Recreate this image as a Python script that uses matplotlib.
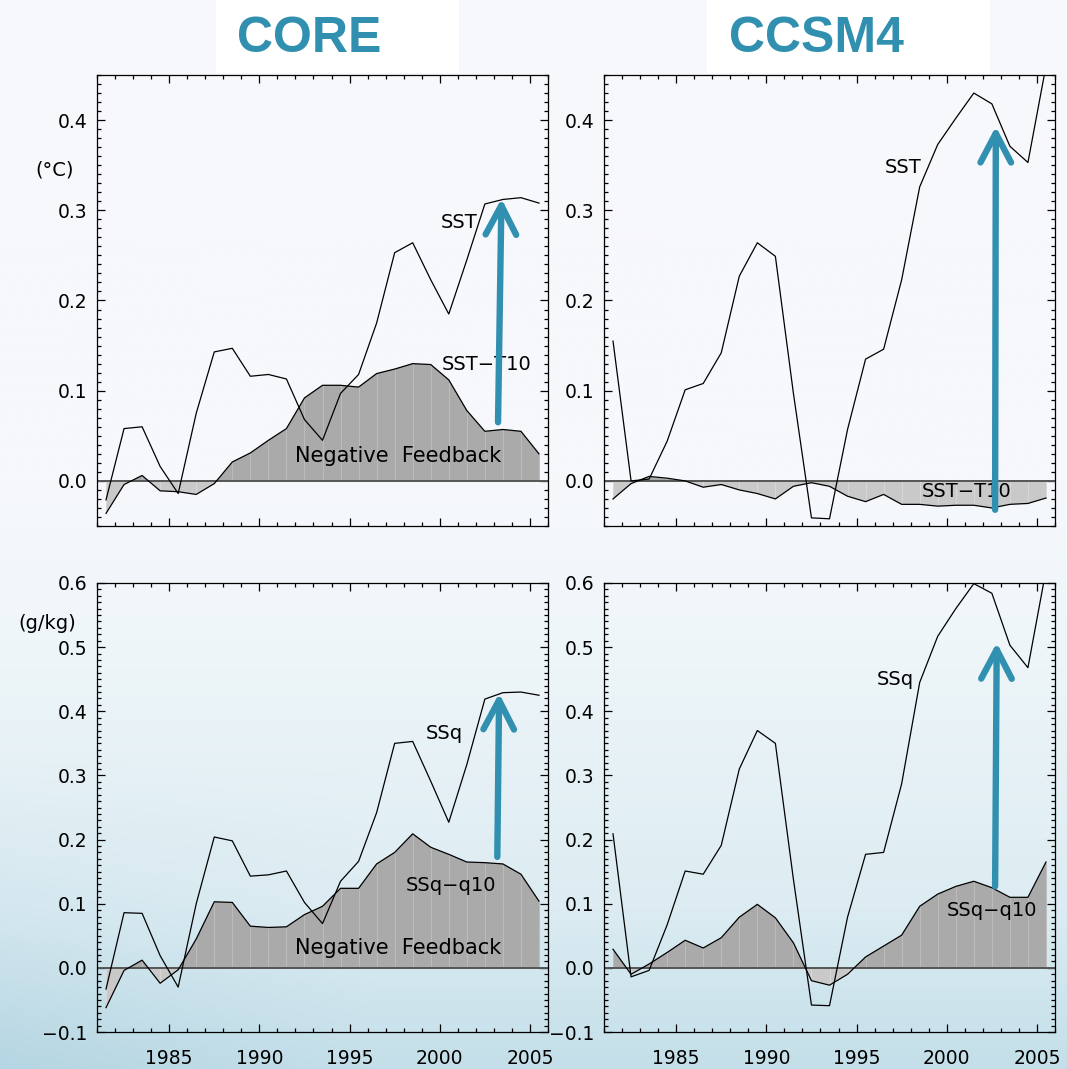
import numpy as np
import matplotlib.pyplot as plt
from matplotlib import font_manager
from matplotlib.patches import FancyArrowPatch, Rectangle
from matplotlib.ticker import MultipleLocator, FuncFormatter

plt.rcParams['font.family'] = ['DejaVu Sans']

# annual means, plotted at mid-year
years = np.arange(1981, 2006) + 0.5

core_sst = [-0.021, 0.058, 0.060, 0.016, -0.014, 0.075, 0.143, 0.147, 0.116, 0.118,
            0.113, 0.068, 0.045, 0.097, 0.118, 0.175, 0.253, 0.264, 0.223, 0.185,
            0.245, 0.307, 0.312, 0.314, 0.308]
core_sst_t10 = [-0.036, -0.004, 0.006, -0.011, -0.012, -0.015, -0.003, 0.021, 0.031, 0.045,
                0.058, 0.092, 0.106, 0.106, 0.104, 0.119, 0.124, 0.130, 0.129, 0.112,
                0.078, 0.055, 0.057, 0.055, 0.030]

ccsm_sst = [0.155, 0.000, 0.002, 0.044, 0.101, 0.108, 0.142, 0.227, 0.264, 0.249,
            0.097, -0.041, -0.042, 0.057, 0.135, 0.146, 0.223, 0.326, 0.373, 0.402,
            0.430, 0.418, 0.371, 0.353, 0.460]
ccsm_sst_t10 = [-0.020, -0.003, 0.005, 0.003, 0.000, -0.007, -0.004, -0.010, -0.014, -0.020,
                -0.006, -0.002, -0.006, -0.017, -0.023, -0.015, -0.026, -0.026, -0.028, -0.027,
                -0.027, -0.030, -0.026, -0.025, -0.019]

core_ssq = [-0.033, 0.086, 0.085, 0.019, -0.030, 0.100, 0.204, 0.198, 0.143, 0.145,
            0.151, 0.102, 0.069, 0.135, 0.166, 0.242, 0.350, 0.353, 0.291, 0.227,
            0.317, 0.419, 0.429, 0.430, 0.425]
core_ssq_q10 = [-0.062, -0.004, 0.012, -0.024, -0.003, 0.045, 0.103, 0.102, 0.065, 0.063,
                0.064, 0.083, 0.096, 0.124, 0.124, 0.162, 0.180, 0.209, 0.188, 0.177,
                0.165, 0.164, 0.162, 0.146, 0.104]

ccsm_ssq = [0.209, -0.014, -0.004, 0.067, 0.151, 0.146, 0.191, 0.310, 0.370, 0.350,
            0.138, -0.058, -0.059, 0.079, 0.177, 0.180, 0.287, 0.445, 0.517, 0.560,
            0.599, 0.584, 0.503, 0.468, 0.620]
ccsm_ssq_q10 = [0.029, -0.010, 0.006, 0.024, 0.043, 0.031, 0.047, 0.079, 0.099, 0.078,
                0.039, -0.020, -0.027, -0.010, 0.017, 0.034, 0.051, 0.096, 0.115, 0.127,
                0.135, 0.125, 0.110, 0.110, 0.165]

titles = ['CORE', 'CCSM4']
teal = '#3190b0'

# condensed bold face for the headings if the narrow variant is installed
installed = {f.name for f in font_manager.fontManager.ttflist}
if 'Liberation Sans Narrow' in installed:
    title_font, title_size = 'Liberation Sans Narrow', 42
else:
    title_font, title_size = 'Liberation Sans', 36


def fmt_tick(v, pos):
    s = f'{v:.1f}'
    if s == '-0.0':
        s = '0.0'
    return s.replace('-', '\u2212')


def draw_panel(ax, total, diff, ylim, show_xlabels):
    total = np.asarray(total)
    diff = np.asarray(diff)
    ax.set_facecolor('none')
    ax.fill_between(years, 0, diff, where=diff >= 0, interpolate=True,
                    color='#aaaaaa', lw=0, zorder=1)
    ax.fill_between(years, 0, diff, where=diff <= 0, interpolate=True,
                    color='#c9c9c9', lw=0, zorder=1)
    # seams between the yearly fill polygons
    pos = diff > 0
    ax.vlines(years[pos], 0, diff[pos], colors='#bdbdbd', lw=0.7, zorder=1.5)
    ax.vlines(years[~pos], diff[~pos], 0, colors='#d8d8d8', lw=0.7, zorder=1.5)
    ax.axhline(0, color='#555555', lw=1.4, zorder=2)
    ax.plot(years, diff, color='black', lw=0.9, zorder=3)
    ax.plot(years, total, color='black', lw=0.9, zorder=3)

    ax.set_xlim(1981, 2006)
    ax.set_ylim(*ylim)
    ax.xaxis.set_major_locator(MultipleLocator(5))
    ax.xaxis.set_minor_locator(MultipleLocator(1))
    ax.yaxis.set_major_locator(MultipleLocator(0.1))
    ax.yaxis.set_minor_locator(MultipleLocator(0.01))
    ax.yaxis.set_major_formatter(FuncFormatter(fmt_tick))
    ax.tick_params(which='both', direction='in', top=True, right=True,
                   width=0.9, colors='black', labelsize=13.5)
    ax.tick_params(which='major', length=6)
    ax.tick_params(which='minor', length=3)
    ax.tick_params(axis='y', pad=7)
    ax.tick_params(axis='x', pad=12, labelbottom=show_xlabels)
    for sp in ax.spines.values():
        sp.set_linewidth(0.9)


def add_arrow(ax, start, end):
    arr = FancyArrowPatch(start, end, arrowstyle='->,head_length=2.1,head_width=1.1',
                          mutation_scale=10, lw=4.6, color=teal,
                          capstyle='round', joinstyle='round',
                          shrinkA=0, shrinkB=0, zorder=5)
    ax.add_patch(arr)


fig = plt.figure(figsize=(10.67, 10.69), dpi=100)

# background wash
bg = fig.add_axes([0, 0, 1, 1], zorder=-10)
ny, nx = 400, 200
t = np.linspace(0, 1, ny)[:, None]
u = np.linspace(0, 1, nx)[None, :]
stops = np.array([0.0, 0.45, 0.6, 0.85, 1.0])
cols = np.array([[248, 248, 253], [246, 248, 252], [239, 246, 249],
                 [220, 236, 242], [196, 223, 233]]) / 255.0
img = np.zeros((ny, nx, 3))
for c in range(3):
    img[:, :, c] = np.interp(t[:, 0], stops, cols[:, c])[:, None]
shade = np.clip((t - 0.7) / 0.3, 0, 1) * np.clip(1 - u / 0.35, 0, 1) * 0.06
img = np.clip(img - shade[:, :, None] * np.array([1.0, 0.6, 0.4]), 0, 1)
bg.imshow(img, aspect='auto', extent=[0, 1, 0, 1], interpolation='bilinear')
bg.set_axis_off()

# heading boxes
for x0, w in [(216, 243), (707, 283)]:
    fig.add_artist(Rectangle((x0 / 1067, 1 - 73 / 1069), w / 1067, 73 / 1069,
                             transform=fig.transFigure, facecolor='white',
                             edgecolor='none', zorder=-5))

for name, x0 in zip(titles, [237, 729]):
    fig.text(x0 / 1067, 1 - 52 / 1069, name, color=teal, fontsize=title_size,
             fontweight='bold', family=[title_font, 'DejaVu Sans'],
             ha='left', va='baseline')

W = 451 / 1067
ax_tl = fig.add_axes([97 / 1067, 1 - 526 / 1069, W, 451 / 1069])
ax_tr = fig.add_axes([604 / 1067, 1 - 526 / 1069, W, 451 / 1069])
ax_bl = fig.add_axes([97 / 1067, 1 - 1032 / 1069, W, 449 / 1069])
ax_br = fig.add_axes([604 / 1067, 1 - 1032 / 1069, W, 449 / 1069])

draw_panel(ax_tl, core_sst, core_sst_t10, (-0.05, 0.45), False)
draw_panel(ax_tr, ccsm_sst, ccsm_sst_t10, (-0.05, 0.45), False)
draw_panel(ax_bl, core_ssq, core_ssq_q10, (-0.1, 0.6), True)
draw_panel(ax_br, ccsm_ssq, ccsm_ssq_q10, (-0.1, 0.6), True)

lab = dict(fontsize=14, color='black', va='center', zorder=4)
ax_tl.text(2002.1, 0.287, 'SST', ha='right', **lab)
ax_tl.text(2000.1, 0.129, 'SST\u2212T10', ha='left', **lab)
ax_tr.text(1998.6, 0.347, 'SST', ha='right', **lab)
ax_tr.text(1998.6, -0.012, 'SST\u2212T10', ha='left', **lab)
ax_bl.text(2001.3, 0.366, 'SSq', ha='right', **lab)
ax_bl.text(1998.1, 0.129, 'SSq\u2212q10', ha='left', **lab)
ax_br.text(1998.2, 0.45, 'SSq', ha='right', **lab)
ax_br.text(2000.0, 0.090, 'SSq\u2212q10', ha='left', **lab)

feedback = dict(fontsize=15, color='black', va='center', ha='left', zorder=4)
ax_tl.text(1992.0, 0.028, 'Negative  Feedback', **feedback)
ax_bl.text(1992.0, 0.031, 'Negative  Feedback', **feedback)

ax_tl.annotate('(\u00b0C)', xy=(-0.093, 0.345), xycoords=('axes fraction', 'data'),
               ha='center', va='center', fontsize=14)
ax_bl.annotate('(g/kg)', xy=(-0.11, 0.537), xycoords=('axes fraction', 'data'),
               ha='center', va='center', fontsize=14)

add_arrow(ax_tl, (2003.23, 0.065), (2003.42, 0.313))
add_arrow(ax_tr, (2002.68, -0.032), (2002.72, 0.393))
add_arrow(ax_bl, (2003.19, 0.173), (2003.29, 0.428))
add_arrow(ax_br, (2002.68, 0.127), (2002.77, 0.507))

fig.savefig('out.png', dpi=100)
plt.close(fig)
